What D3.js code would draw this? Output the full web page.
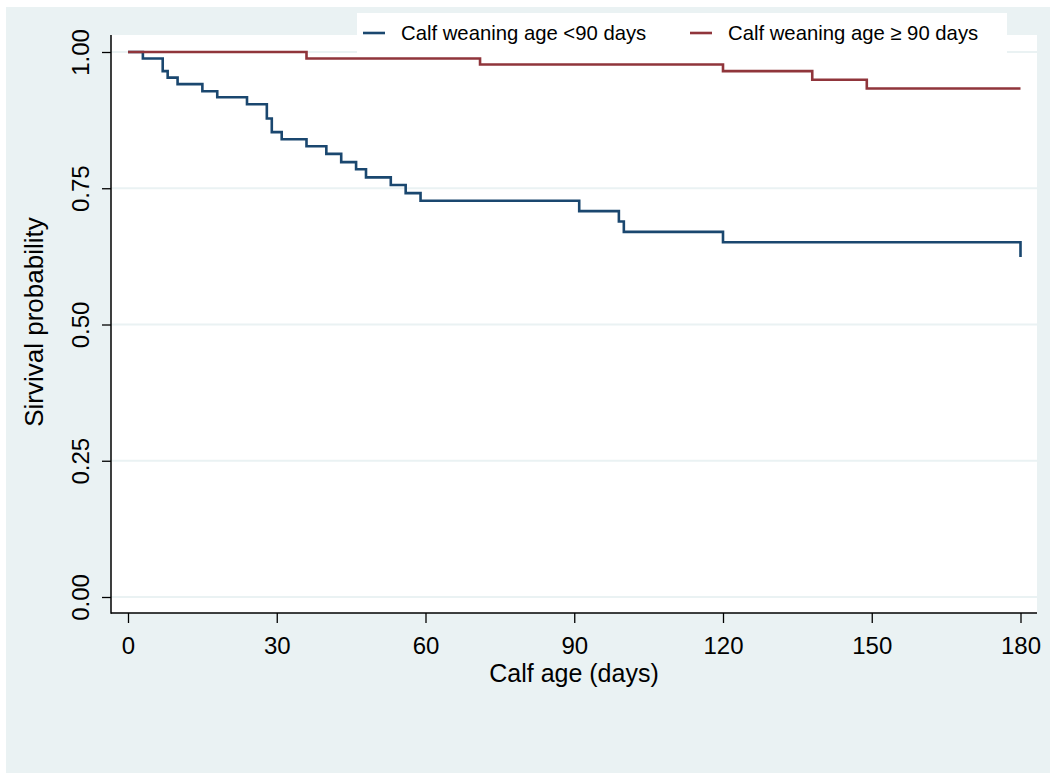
<!DOCTYPE html>
<html>
<head>
<meta charset="utf-8">
<script src="https://cdn.jsdelivr.net/npm/d3@7"></script>
<style>
  body { margin: 0; background: #fff; }
  svg { display: block; font-family: "Liberation Sans", Arial, sans-serif; }
</style>
</head>
<body>
<svg width="1055" height="774"></svg>
<script>
// Kaplan-Meier steps
var daysUnder90 = [0, 3, 7, 8, 10, 15, 18, 24, 28, 29, 31, 36, 40, 43, 46, 48, 53, 56, 59, 91, 99, 100, 120, 180];
var survUnder90 = [1, 0.988, 0.965, 0.953, 0.941, 0.928, 0.917, 0.904, 0.878, 0.853, 0.840, 0.827, 0.813, 0.798, 0.785, 0.770, 0.756, 0.741, 0.727, 0.708, 0.689, 0.670, 0.651, 0.624];
var daysOver90 = [0, 36, 71, 120, 138, 149, 180];
var survOver90 = [1, 0.988, 0.977, 0.965, 0.949, 0.933, 0.933];

var xTicks = [0, 30, 60, 90, 120, 150, 180];
var yTicks = [0, 0.25, 0.5, 0.75, 1];
var legendLabels = ["Calf weaning age <90 days", "Calf weaning age \u2265 90 days"];
var colors = ["#1a476f", "#90353b"];

var svg = d3.select("svg");
const bg = "#eaf2f3";

// outer region + plot region
svg.append("rect").attr("x", 6).attr("y", 7).attr("width", 1044).attr("height", 766).attr("fill", bg);
var plot = { left: 111, top: 35, right: 1037, bottom: 613 };
svg.append("rect")
  .attr("x", plot.left).attr("y", plot.top)
  .attr("width", plot.right - plot.left).attr("height", plot.bottom - plot.top)
  .attr("fill", "#fff");

var x = d3.scaleLinear().domain([0, 180]).range([128, 1020.5]);
var y = d3.scaleLinear().domain([0, 1]).range([597, 52]);

// gridlines
svg.append("g").selectAll("line").data(yTicks).enter()
  .append("line")
    .attr("x1", plot.left).attr("x2", plot.right)
    .attr("y1", d => y(d)).attr("y2", d => y(d))
    .attr("stroke", bg).attr("stroke-width", 2);

// curves
var line = d3.line()
  .x(d => x(d[0]))
  .y(d => y(d[1]))
  .curve(d3.curveStepAfter);

var series = [
  d3.zip(daysUnder90, survUnder90),
  d3.zip(daysOver90, survOver90)
];
svg.append("g").selectAll("path").data(series).enter()
  .append("path")
    .attr("d", line)
    .attr("fill", "none")
    .attr("stroke", (d, i) => colors[i])
    .attr("stroke-width", 2.6);

// y axis
var yAxis = svg.append("g")
  .attr("transform", "translate(" + plot.left + ",0)")
  .call(d3.axisLeft(y).tickValues(yTicks).tickFormat(d3.format(".2f")).tickSize(9).tickSizeOuter(0));
yAxis.select(".domain").remove();
yAxis.selectAll(".tick line").attr("stroke", "#000").attr("stroke-width", 1.3);
yAxis.selectAll(".tick text")
  .attr("x", null).attr("dy", null)
  .attr("transform", "translate(-22,0) rotate(-90)")
  .attr("text-anchor", "middle")
  .attr("font-size", 24)
  .attr("fill", "#000");

// x axis
var xAxis = svg.append("g")
  .attr("transform", "translate(0," + plot.bottom + ")")
  .call(d3.axisBottom(x).tickValues(xTicks).tickSize(10).tickSizeOuter(0));
xAxis.select(".domain").remove();
xAxis.selectAll(".tick line").attr("stroke", "#000").attr("stroke-width", 1.3);
xAxis.selectAll(".tick text")
  .attr("y", 41).attr("dy", null)
  .attr("font-size", 24)
  .attr("fill", "#000");

// axis lines
svg.append("line").attr("x1", plot.left).attr("x2", plot.left).attr("y1", plot.top).attr("y2", plot.bottom + 0.7)
  .attr("stroke", "#000").attr("stroke-width", 1.5);
svg.append("line").attr("x1", plot.left).attr("x2", plot.right).attr("y1", plot.bottom).attr("y2", plot.bottom)
  .attr("stroke", "#000").attr("stroke-width", 1.5);

// axis titles
svg.append("text")
  .attr("x", 574).attr("y", 682)
  .attr("text-anchor", "middle").attr("font-size", 25)
  .text("Calf age (days)");
svg.append("text")
  .attr("transform", "translate(43,322) rotate(-90)")
  .attr("text-anchor", "middle").attr("font-size", 26)
  .text("Sirvival probability");

// legend
var legend = svg.append("g");
legend.append("rect").attr("x", 357).attr("y", 13).attr("width", 650).attr("height", 40).attr("fill", "#fff");
var legendX = [363, 690];
legendLabels.forEach(function(label, i) {
  legend.append("line")
    .attr("x1", legendX[i]).attr("x2", legendX[i] + 22)
    .attr("y1", 33).attr("y2", 33)
    .attr("stroke", colors[i]).attr("stroke-width", 2.6);
  legend.append("text")
    .attr("x", legendX[i] + 38).attr("y", 40)
    .attr("font-size", 20.3)
    .text(label);
});
</script>
</body>
</html>
